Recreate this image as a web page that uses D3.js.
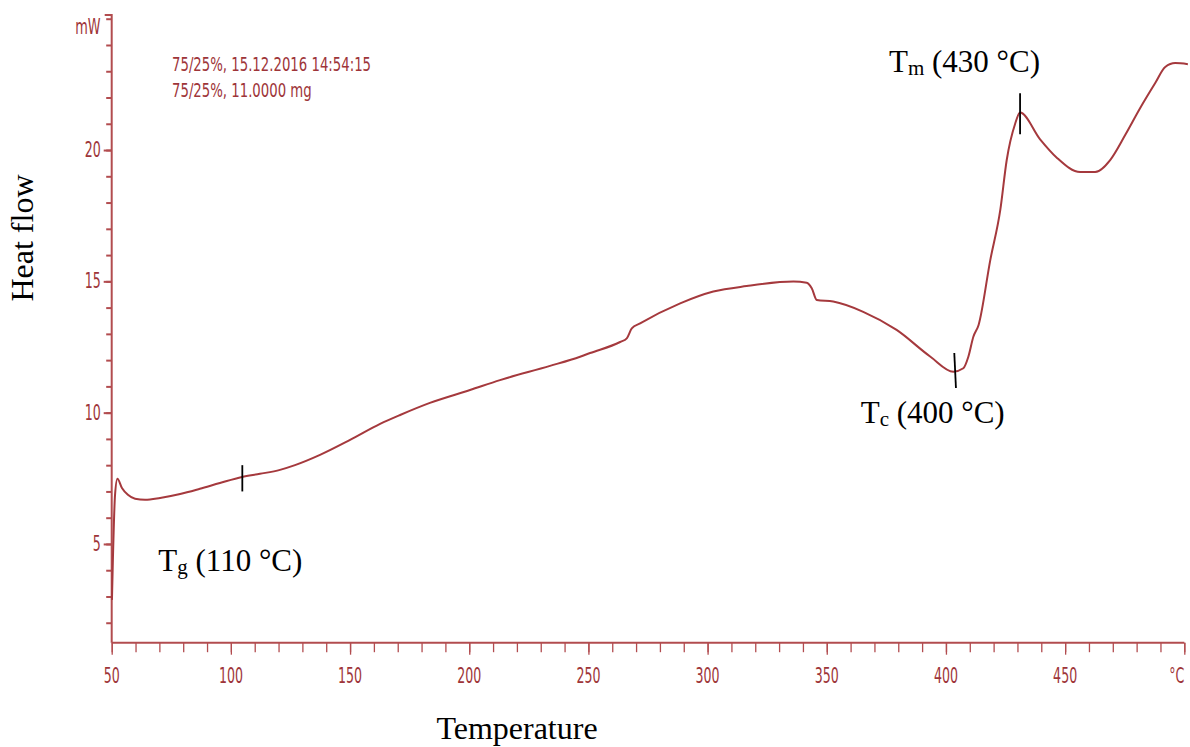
<!DOCTYPE html>
<html><head><meta charset="utf-8">
<script src="https://cdn.jsdelivr.net/npm/d3@7"></script>
<style>body{margin:0;background:#fff}svg{display:block}</style>
</head><body>
<svg id="c" width="1190" height="747"></svg>
<script>
// ---- data ----
const temperature = [50.1, 50.5, 51.4, 52.4, 54.3, 56.8, 59.8, 64.0, 70.3, 78.7, 87.0, 95.4, 104.7, 112.2, 120.6, 126.9, 137.4, 150.0, 162.6, 171.0, 183.5, 200.3, 212.9, 233.9, 246.5, 250.7, 263.3, 266.1, 268.2, 271.7, 288.5, 302.4, 316.4, 336.0, 341.6, 343.7, 345.8, 352.7, 365.3, 379.3, 393.5, 403.1, 407.3, 409.4, 411.5, 413.7, 418.6, 422.8, 425.5, 429.0, 431.1, 439.5, 446.5, 456.3, 462.6, 468.9, 475.2, 481.5, 487.8, 492.0, 496.2, 501.5];
const heatFlow = [2.87, 4.4, 6.87, 7.48, 7.13, 6.87, 6.72, 6.68, 6.75, 6.9, 7.1, 7.32, 7.55, 7.67, 7.82, 8.0, 8.39, 8.96, 9.57, 9.91, 10.37, 10.86, 11.24, 11.78, 12.13, 12.27, 12.69, 12.83, 13.21, 13.40, 14.16, 14.61, 14.82, 14.99, 14.95, 14.74, 14.29, 14.23, 13.84, 13.15, 12.13, 11.56, 11.69, 12.13, 12.89, 13.34, 15.81, 17.72, 19.62, 20.99, 21.43, 20.41, 19.71, 19.16, 19.16, 19.62, 20.57, 21.6, 22.55, 23.16, 23.31, 23.27];

const xMajorTicks = [50, 100, 150, 200, 250, 300, 350, 400, 450, 500];
const xTickLabels = ["50", "100", "150", "200", "250", "300", "350", "400", "450", "°C"];
const xMinorTicks = d3.range(50, 501, 10);
const yMajorTicks = [5, 10, 15, 20];
const yTickLabels = ["5", "10", "15", "20"];
const yMinorTicks = d3.range(2, 26, 1);
const yUnit = "mW";
const headerLines = ["75/25%, 15.12.2016 14:54:15", "75/25%, 11.0000 mg"];

// markers (Tg, Tc, Tm)
const markerTempTop = [104.8, 403.5, 431.1];
const markerTempBottom = [104.8, 404.2, 431.1];
const markerHigh = [8.0, 12.27, 22.16];
const markerLow = [7.0, 10.94, 20.6];
const markerNames = ["g", "c", "m"];
const markerValues = ["110", "400", "430"];

// ---- layout ----
const svg = d3.select("#c");
const X0 = 111.7, X1 = 1184.3, Y0 = 642.7, Y1 = 14;
const x = d3.scaleLinear().domain([50, 500]).range([X0, X1]);
const y = d3.scaleLinear().domain([1.24, 25.18]).range([Y0, Y1]);

const axisColor = "#b24c4f";
const textColor = "#9e3539";
const lineColor = "#a5393d";
const sansNarrow = "'Liberation Sans Narrow','DejaVu Sans Condensed','Arial Narrow',sans-serif";
const serif = "'Liberation Serif','Times New Roman',serif";

// x axis
const xMinor = d3.axisBottom(x).tickValues(xMinorTicks).tickSize(9.5).tickFormat("");
const xMajor = d3.axisBottom(x).tickValues(xMajorTicks).tickSize(12).tickFormat("");
[xMinor, xMajor].forEach(a => {
  const g = svg.append("g").attr("transform", `translate(0,${Y0})`).call(a);
  g.select(".domain").remove();
  g.selectAll("line").attr("stroke", axisColor).attr("stroke-width", 1.3);
});
// y axis
const yMinor = d3.axisLeft(y).tickValues(yMinorTicks).tickSize(5.5).tickFormat("");
const yMajor = d3.axisLeft(y).tickValues(yMajorTicks).tickSize(8).tickFormat("");
[yMinor, yMajor].forEach(a => {
  const g = svg.append("g").attr("transform", `translate(${X0},0)`).call(a);
  g.select(".domain").remove();
  g.selectAll("line").attr("stroke", axisColor).attr("stroke-width", 2);
});
// top tick of y axis (unit)
svg.append("line").attr("x1", X0 - 7).attr("x2", X0).attr("y1", Y1 + 1).attr("y2", Y1 + 1)
  .attr("stroke", axisColor).attr("stroke-width", 2);

// axis lines
svg.append("line").attr("x1", X0).attr("x2", X0).attr("y1", Y1).attr("y2", Y0)
  .attr("stroke", axisColor).attr("stroke-width", 2);
svg.append("line").attr("x1", X0).attr("x2", X1).attr("y1", Y0).attr("y2", Y0)
  .attr("stroke", axisColor).attr("stroke-width", 2);

// tick labels (narrow, slightly tall font)
function narrowText(px, py, txt, anchor, size, sx, sy) {
  svg.append("text")
    .attr("transform", `translate(${px},${py}) scale(${sx},${sy})`)
    .attr("text-anchor", anchor)
    .attr("font-family", sansNarrow)
    .attr("font-size", size)
    .attr("fill", textColor)
    .text(txt);
}
xMajorTicks.forEach((t, i) => {
  const last = i === xMajorTicks.length - 1;
  narrowText(last ? x(t) - 15 : x(t), 683, xTickLabels[i], last ? "start" : "middle", 17.5, 0.8, 1.2);
});
yMajorTicks.forEach((t, i) => {
  narrowText(X0 - 11, y(t) + 7, yTickLabels[i], "end", 17.5, 0.8, 1.2);
});
narrowText(100.5, 34, yUnit, "end", 17.5, 0.82, 1.2);
headerLines.forEach((l, i) => narrowText(172, 71 + i * 26, l, "start", 18, 0.82, 1.12));

// curve
const pts = temperature.map((t, i) => [t, heatFlow[i]]);
const line = d3.line().x(d => x(d[0])).y(d => y(d[1])).curve(d3.curveMonotoneX);
svg.append("path").datum(pts).attr("d", line)
  .attr("fill", "none").attr("stroke", lineColor).attr("stroke-width", 2)
  .attr("stroke-linejoin", "round");

// markers
markerTempTop.forEach((t, i) => {
  svg.append("line")
    .attr("x1", x(t)).attr("y1", y(markerHigh[i]))
    .attr("x2", x(markerTempBottom[i])).attr("y2", y(markerLow[i]))
    .attr("stroke", "#000").attr("stroke-width", 1.8);
});

// axis titles
svg.append("text").attr("x", 517).attr("y", 739).attr("text-anchor", "middle")
  .attr("font-family", serif).attr("font-size", 32).attr("fill", "#000").text("Temperature");
svg.append("text").attr("transform", "translate(33,238) rotate(-90)").attr("text-anchor", "middle")
  .attr("font-family", serif).attr("font-size", 32).attr("fill", "#000").text("Heat flow");

// annotations
const annotPos = [[158.3, 570.7], [860.7, 422.5], [889, 71.7]];
annotPos.forEach((p, i) => {
  const t = svg.append("text").attr("x", p[0]).attr("y", p[1])
    .attr("font-family", serif).attr("font-size", 31).attr("fill", "#000");
  t.append("tspan").text("T");
  t.append("tspan").attr("font-size", 21).attr("dy", 3).text(markerNames[i]);
  t.append("tspan").attr("dy", -3).text(` (${markerValues[i]} °C)`);
});
</script>
</body></html>
